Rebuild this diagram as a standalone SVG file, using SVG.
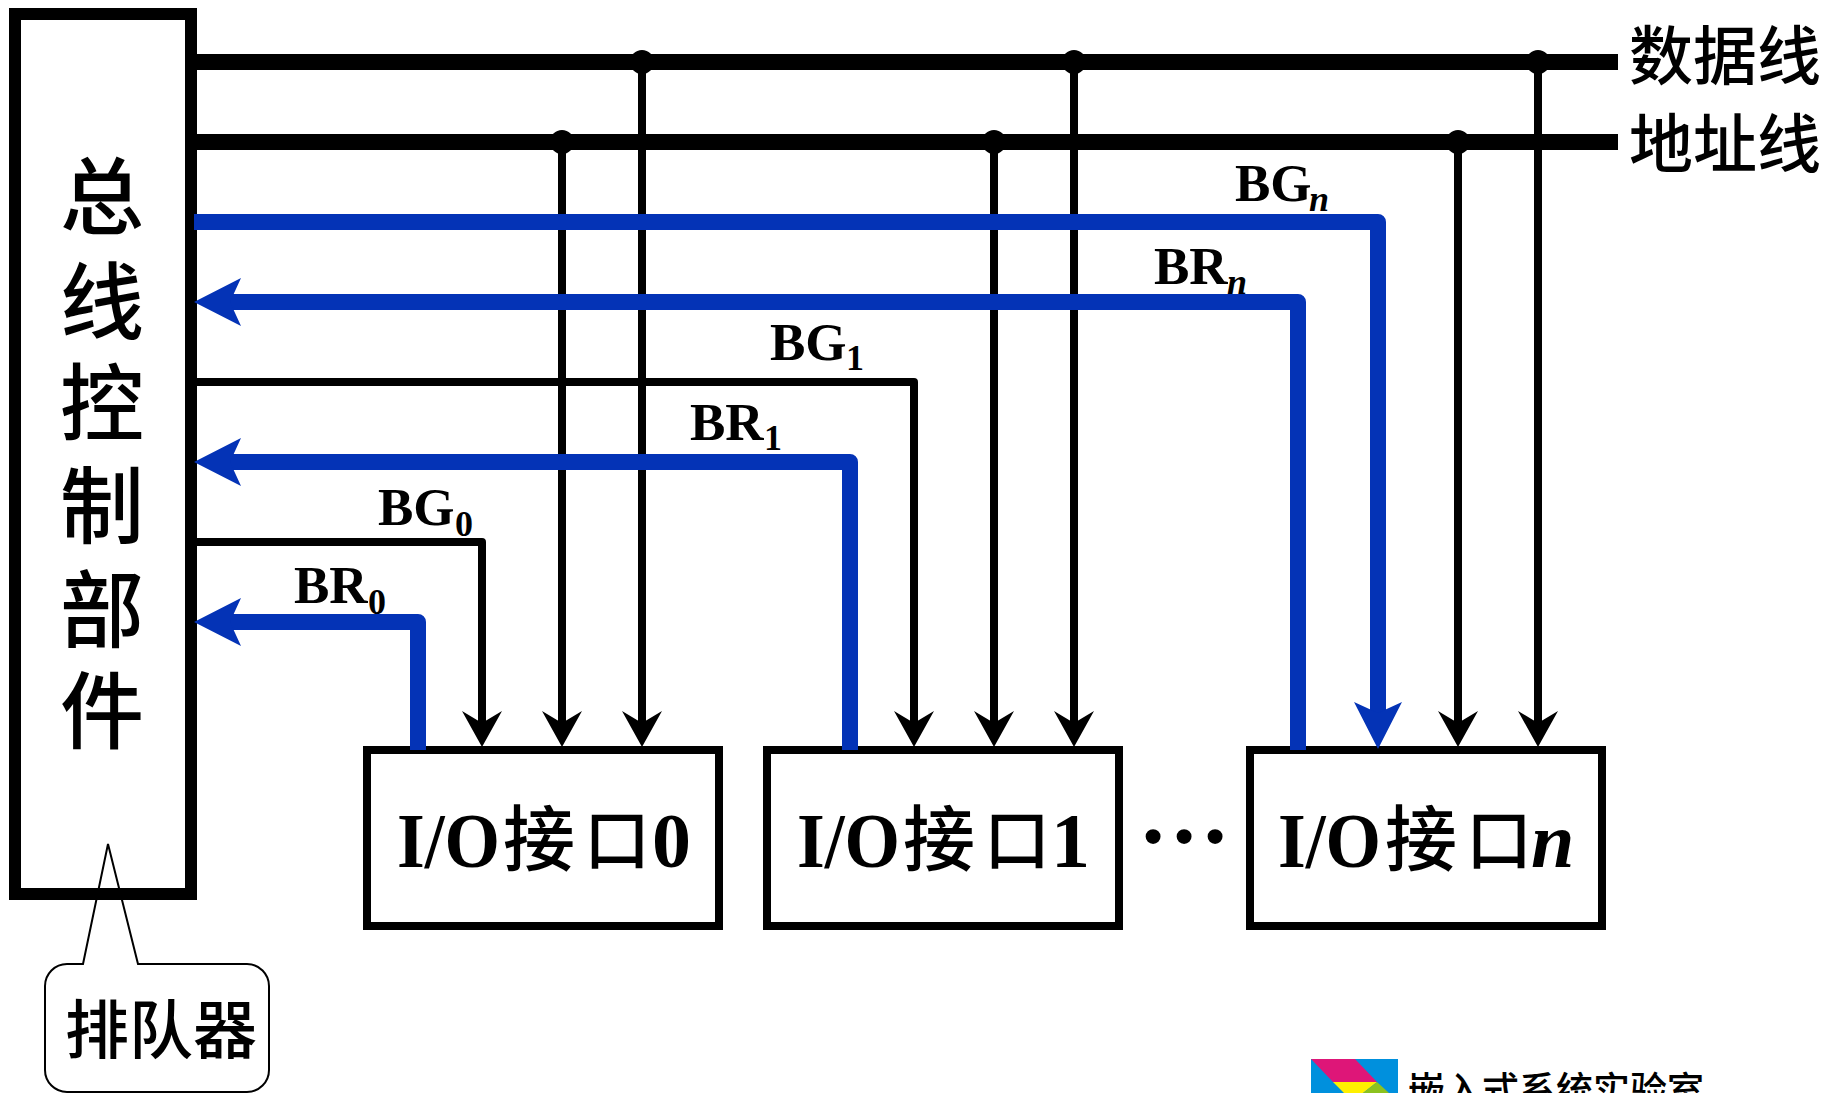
<svg xmlns="http://www.w3.org/2000/svg" width="1825" height="1093" viewBox="0 0 1825 1093">
<style>
.cjk{font-family:"Noto Sans CJK SC","Noto Sans CJK JP",sans-serif;fill:#000;font-weight:500}
.lat{font-family:"Liberation Serif",serif;font-weight:bold;fill:#000}
.box{fill:none;stroke:#000;stroke-width:8}
.bus{fill:none;stroke:#000;stroke-width:16}
.k{fill:none;stroke:#000;stroke-width:8;stroke-linejoin:round}
.b{fill:none;stroke:#0433b6;stroke-width:16;stroke-linejoin:round}
.ka{marker-end:url(#ah)}
.ba{marker-end:url(#bh)}
.lbl{font-size:53px}
.sub{font-size:36px}
.io{font-size:78px}
.ioc{font-size:72px}
.iok{font-size:66px}
</style>
<defs>
<marker id="ah" markerUnits="userSpaceOnUse" orient="auto" overflow="visible" markerWidth="40" markerHeight="40"><path d="M-12-20L24 0L-12 20L0 0Z" fill="#000"/></marker>
<marker id="bh" markerUnits="userSpaceOnUse" orient="auto" overflow="visible" markerWidth="48" markerHeight="48"><path d="M-11-24L36 0L-11 24L0 0Z" fill="#0433b6"/></marker>
</defs>
<rect width="1825" height="1093" fill="#fff"/>
<g id="controller">
<rect x="15" y="14" width="176" height="880" fill="none" stroke="#000" stroke-width="12"/>
<text class="cjk" font-size="84" text-anchor="middle"><tspan x="102" y="228">总</tspan><tspan x="102" y="333">线</tspan><tspan x="102" y="434">控</tspan><tspan x="102" y="537">制</tspan><tspan x="102" y="641">部</tspan><tspan x="102" y="742">件</tspan></text>
</g>
<g id="queue">
<path d="M83 964L108 844L138 964H247A22 22 0 0 1 269 986V1070A22 22 0 0 1 247 1092H67A22 22 0 0 1 45 1070V986A22 22 0 0 1 67 964Z" fill="none" stroke="#000" stroke-width="2"/>
<text class="cjk" font-size="64" x="65" y="1053">排队器</text>
</g>
<g id="data-line-label"><text class="cjk" font-size="64" x="1629" y="79">数据线</text></g>
<g id="address-line-label"><text class="cjk" font-size="64" x="1629" y="167">地址线</text></g>
<g id="io0">
<rect class="box" x="367" y="750" width="352" height="176"/>
<text class="lat io" x="397" y="867" textLength="103" lengthAdjust="spacingAndGlyphs">I/O</text>
<text class="cjk ioc" x="503" y="865">接</text><text class="cjk iok" x="584" y="864">口</text>
<text class="lat io" x="652" y="867">0</text>
</g>
<g id="io1">
<rect class="box" x="767" y="750" width="352" height="176"/>
<text class="lat io" x="797" y="867" textLength="103" lengthAdjust="spacingAndGlyphs">I/O</text>
<text class="cjk ioc" x="903" y="865">接</text><text class="cjk iok" x="984" y="864">口</text>
<text class="lat io" x="1051" y="867">1</text>
</g>
<g id="ion">
<rect class="box" x="1250" y="750" width="352" height="176"/>
<text class="lat io" x="1278" y="867" textLength="103" lengthAdjust="spacingAndGlyphs">I/O</text>
<text class="cjk ioc" x="1385" y="865">接</text><text class="cjk iok" x="1466" y="864">口</text>
<text class="lat io" font-style="italic" x="1531" y="867">n</text>
</g>
<g id="ellipsis"><text class="lat" font-size="92" x="1138" y="843">…</text></g>
<g id="logo">
<rect x="1311" y="1059" width="87" height="34" fill="#0090dd"/>
<path d="M1311 1059H1355L1377 1082H1333Z" fill="#de1678"/>
<path d="M1333 1082H1377L1363 1093H1344Z" fill="#fff000"/>
<path d="M1377 1082L1389 1093H1363Z" fill="#8cc21f"/>
<text class="cjk" font-size="37" x="1408" y="1104">嵌入式系统实验室</text>
</g>
<g id="connectors">
<path class="bus" d="M197 62H1618M197 142H1618"/>
<path class="k ka" d="M642 62V723"/><path class="k ka" d="M1074 62V723"/><path class="k ka" d="M1538 62V723"/>
<path class="k ka" d="M562 142V723"/><path class="k ka" d="M994 142V723"/><path class="k ka" d="M1458 142V723"/>
<g fill="#000"><circle cx="642" cy="62" r="12"/><circle cx="1074" cy="62" r="12"/><circle cx="1538" cy="62" r="12"/><circle cx="562" cy="142" r="12"/><circle cx="994" cy="142" r="12"/><circle cx="1458" cy="142" r="12"/></g>
<path class="k ka" d="M197 382H914V723"/>
<path class="k ka" d="M197 542H482V723"/>
<path class="b ba" d="M194 222H1378V713"/>
<path class="b ba" d="M1298 750V302H230"/>
<path class="b ba" d="M850 750V462H230"/>
<path class="b ba" d="M418 750V622H230"/>
</g>
<g id="labels">
<text class="lat lbl" x="1235" y="201">BG</text><text class="lat sub" font-style="italic" x="1309" y="211">n</text>
<text class="lat lbl" x="1154" y="284">BR</text><text class="lat sub" font-style="italic" x="1227" y="294">n</text>
<text class="lat lbl" x="770" y="360">BG</text><text class="lat sub" x="846" y="370">1</text>
<text class="lat lbl" x="690" y="440">BR</text><text class="lat sub" x="764" y="450">1</text>
<text class="lat lbl" x="378" y="525">BG</text><text class="lat sub" x="455" y="536">0</text>
<text class="lat lbl" x="294" y="603">BR</text><text class="lat sub" x="368" y="614">0</text>
</g>
</svg>
